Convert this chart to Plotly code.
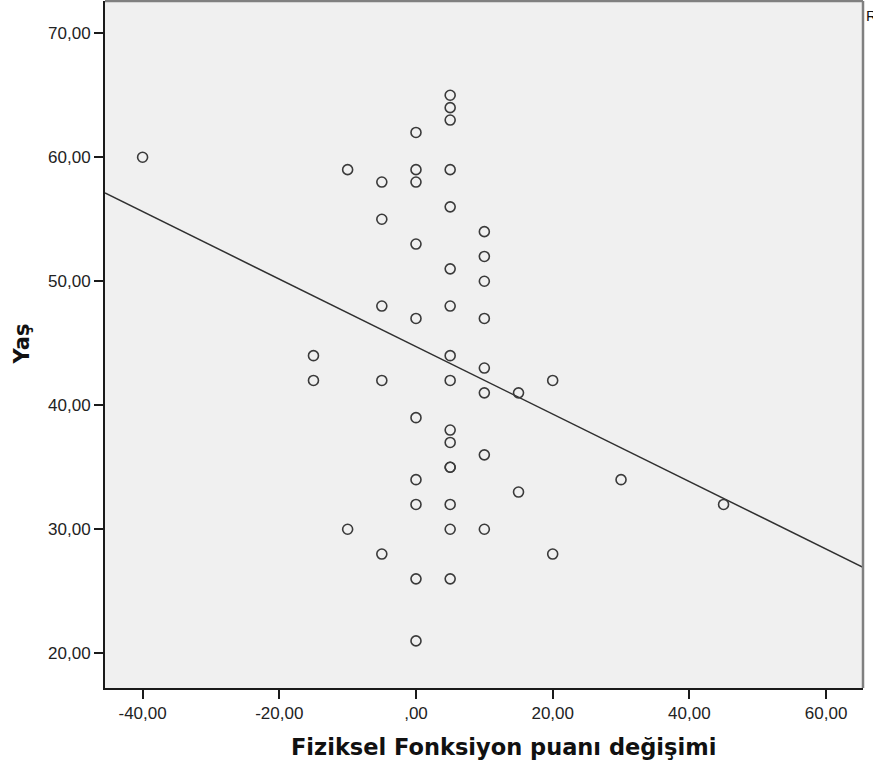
import numpy as np
import plotly.graph_objects as go

# Data
fiziksel_degisim = [-40,
                    -15, -15,
                    -10, -10,
                    -5, -5, -5, -5, -5,
                    0, 0, 0, 0, 0, 0, 0, 0, 0, 0,
                    5, 5, 5, 5, 5, 5, 5, 5, 5, 5, 5, 5, 5, 5, 5, 5,
                    10, 10, 10, 10, 10, 10, 10, 10,
                    15, 15,
                    20, 20,
                    30,
                    45]
yas = [60,
       44, 42,
       59, 30,
       58, 55, 48, 42, 28,
       62, 59, 58, 53, 47, 39, 34, 32, 26, 21,
       65, 64, 63, 59, 56, 51, 48, 44, 42, 38, 37, 35, 35, 32, 30, 26,
       54, 52, 50, 47, 43, 41, 36, 30,
       41, 33,
       42, 28,
       34,
       32]

x_tickvals = [-40, -20, 0, 20, 40, 60]
x_ticktext = ["-40,00", "-20,00", ",00", "20,00", "40,00", "60,00"]
y_tickvals = [20, 30, 40, 50, 60, 70]
y_ticktext = ["20,00", "30,00", "40,00", "50,00", "60,00", "70,00"]

x_range = [-45.5, 65.4]
y_range = [17.2, 72.6]

x = np.array(fiziksel_degisim, dtype=float)
y = np.array(yas, dtype=float)
slope, intercept = np.polyfit(x, y, 1)
r2 = np.corrcoef(x, y)[0, 1] ** 2
line_x = np.array(x_range)
line_y = intercept + slope * line_x

fig = go.Figure()
fig.add_trace(go.Scatter(
    x=line_x, y=line_y, mode="lines",
    line=dict(color="#303030", width=1.5),
    hoverinfo="skip", showlegend=False))
fig.add_trace(go.Scatter(
    x=x, y=y, mode="markers",
    marker=dict(symbol="circle-open", size=10, color="#3a3a3a",
                line=dict(width=1.6, color="#3a3a3a")),
    showlegend=False))

tick_font = dict(family="Liberation Sans, Arial, sans-serif", size=17, color="#222222")

fig.update_layout(
    width=873, height=769,
    margin=dict(l=105, r=10, t=1, b=81),
    paper_bgcolor="white",
    plot_bgcolor="#F0F0F0",
    xaxis=dict(range=x_range, tickvals=x_tickvals, ticktext=x_ticktext,
               showgrid=False, zeroline=False, showline=True,
               linecolor="#1a1a1a", linewidth=2, ticks="outside",
               ticklen=9, tickwidth=2, tickcolor="#1a1a1a",
               tickfont=tick_font),
    yaxis=dict(range=y_range, tickvals=y_tickvals, ticktext=y_ticktext,
               showgrid=False, zeroline=False, showline=True,
               linecolor="#1a1a1a", linewidth=2, ticks="outside",
               ticklen=9, tickwidth=2, tickcolor="#1a1a1a",
               tickfont=tick_font),
    shapes=[
        dict(type="line", xref="paper", yref="paper", x0=0, x1=1, y0=1, y1=1,
             line=dict(color="#808080", width=2.5)),
        dict(type="line", xref="paper", yref="paper", x0=1, x1=1, y0=0, y1=1,
             line=dict(color="#808080", width=2.5)),
    ],
    annotations=[
        dict(text="Fiziksel Fonksiyon puanı değişimi", xref="paper", yref="paper",
             x=(503 - 105) / 758, y=0, yshift=-59, xanchor="center", yanchor="middle",
             showarrow=False,
             font=dict(family="DejaVu Sans", size=22.5, color="#111111", weight="bold")),
        dict(text="Yaş", xref="paper", yref="paper", x=0, xshift=-84, y=0.5,
             xanchor="center", yanchor="middle", textangle=-90, showarrow=False,
             font=dict(family="DejaVu Sans", size=21, color="#111111", weight="bold")),
        dict(text="R² Linear = " + f"{r2:.3f}".replace(".", ","), xref="paper", yref="paper",
             x=1, xshift=1, y=1, yshift=-14, xanchor="left", yanchor="middle",
             showarrow=False,
             font=dict(family="Liberation Sans, Arial, sans-serif", size=15, color="#111111")),
    ],
)

fig.write_html("out.html", config={"displayModeBar": False},
               post_script="document.body.style.margin='0';")
